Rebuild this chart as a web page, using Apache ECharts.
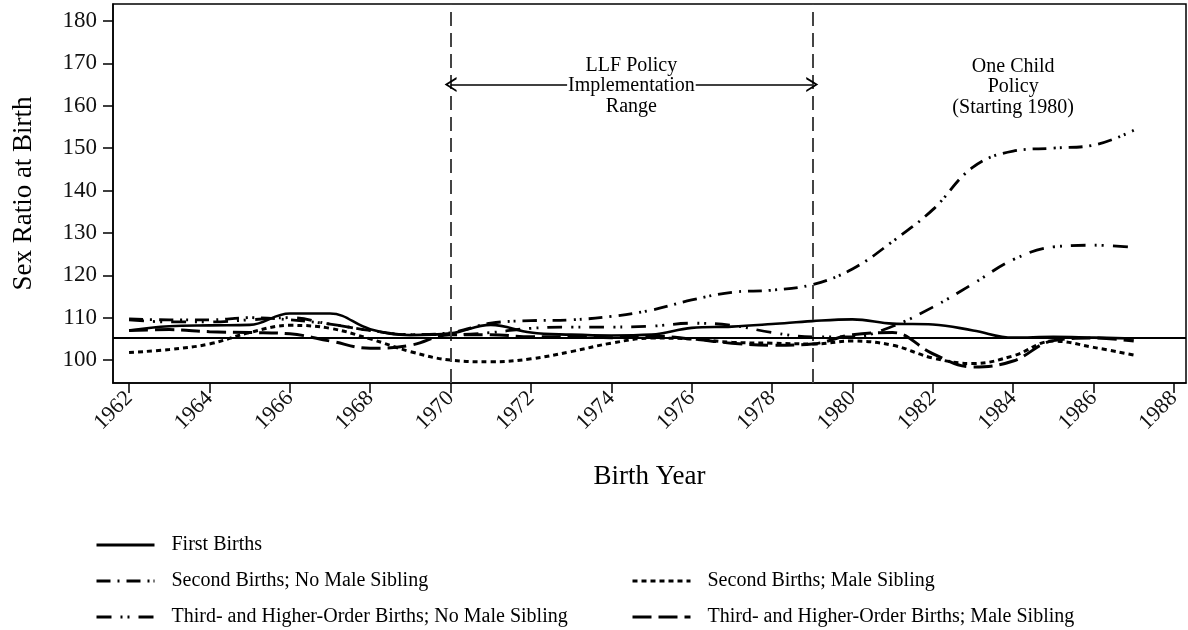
<!DOCTYPE html>
<html>
<head>
<meta charset="utf-8">
<script src="https://cdn.jsdelivr.net/npm/echarts@6/dist/echarts.min.js"></script>
<style>
  html, body { margin: 0; padding: 0; background: #fff; }
  #main { width: 1188px; height: 630px; }
</style>
</head>
<body>
<div id="main"></div>
<script>
    // birth years and smoothed sex ratios
    const years = [1962, 1963, 1964, 1965, 1966, 1967, 1968, 1969, 1970, 1971, 1972, 1973, 1974,
                   1975, 1976, 1977, 1978, 1979, 1980, 1981, 1982, 1983, 1984, 1985, 1986, 1987];
    const firstBirths = [107, 108, 108.2, 108.3, 111, 111, 107.3, 105.9, 106.3, 108.3, 106.5, 106, 105.8,
                         106, 107.6, 107.9, 108.5, 109.2, 109.6, 108.6, 108.4, 107, 105.3, 105.5, 105.3, 105.1];
    const secondNoMale = [109.7, 109.5, 109.5, 110, 109.5, 108.5, 107, 106, 106.5, 108.7, 109.3, 109.5, 110.3,
                          111.8, 114.2, 116, 116.5, 117.8, 121.5, 128, 135.5, 145.5, 149.3, 150, 150.7, 154.2];
    const secondMale = [101.8, 102.5, 103.8, 106.5, 108.2, 107.5, 105, 102, 100, 99.6, 100.3, 102, 104,
                        105.2, 105, 104.2, 104, 103.8, 104.5, 103.5, 100.5, 99.2, 101, 104.5, 103, 101.2];
    const thirdNoMale = [109.5, 109, 109, 109.5, 110, 108.5, 107, 106, 106, 106.5, 107.5, 107.8, 107.8,
                         108, 108.7, 108.2, 106.5, 105.5, 105.5, 108, 112.5, 118, 123.7, 126.7, 127.1, 126.6];
    const thirdMale = [107, 107.2, 106.7, 106.5, 106.2, 104.5, 102.8, 103.5, 106, 106, 105.5, 105.5, 105.3,
                       105.7, 105, 104, 103.5, 103.8, 106, 106.5, 101.5, 98.4, 99.8, 104.6, 105.2, 104.5];

    const xTicks = [1962, 1964, 1966, 1968, 1970, 1972, 1974, 1976, 1978, 1980, 1982, 1984, 1986, 1988];
    const yTicks = [100, 110, 120, 130, 140, 150, 160, 170, 180];
    const policyYears = [1970, 1979];
    const naturalRatio = 105.3;

    const font = 'Liberation Serif, Times New Roman, serif';

    const pairs = (vals) => years.map((y, i) => [y, vals[i]]);

    // open chevron used for the arrow heads
    const chevron = 'path://M5,0 L10,10 L8.6,10 L5,2.8 L1.4,10 L0,10 Z';

    // one legend box per entry, placed like the two-column key under the plot
    const legendBox = (name, left, top) => ({
        data: [name],
        left: left, top: top,
        itemWidth: 58, itemHeight: 14,
        itemStyle: { opacity: 0 },
        lineStyle: { width: 3 },
        textStyle: { fontFamily: font, fontSize: 20, color: '#000', padding: [0, 0, 0, 12] }
    });

    const chart = echarts.init(document.getElementById('main'));

    const option = {
        animation: false,
        backgroundColor: '#fff',
        textStyle: { fontFamily: font, color: '#000' },
        grid: {
            left: 113, right: 2, top: 4, bottom: 247,
            show: true, borderColor: '#000', borderWidth: 1.5
        },
        xAxis: {
            type: 'value',
            min: 1961.6,
            max: 1988.3,
            name: 'Birth Year',
            nameLocation: 'middle',
            nameGap: 80,
            nameTextStyle: { fontFamily: font, fontSize: 27, color: '#000' },
            axisLine: { lineStyle: { color: '#000', width: 1.5 } },
            axisTick: { length: 10, customValues: xTicks, lineStyle: { color: '#000', width: 1.5 } },
            axisLabel: {
                customValues: xTicks, rotate: 45, margin: 12,
                fontFamily: font, fontSize: 22, color: '#111',
                formatter: (v) => String(v)
            },
            splitLine: { show: false }
        },
        yAxis: {
            type: 'value',
            min: 94.6,
            max: 184,
            name: 'Sex Ratio at Birth',
            nameLocation: 'middle',
            nameGap: 76,
            nameTextStyle: { fontFamily: font, fontSize: 27, color: '#000' },
            axisLine: { lineStyle: { color: '#000', width: 1.5 } },
            axisTick: { length: 10, customValues: yTicks, lineStyle: { color: '#000', width: 1.5 } },
            axisLabel: { customValues: yTicks, margin: 16, fontFamily: font, fontSize: 23, color: '#111' },
            splitLine: { show: false }
        },
        legend: [
            legendBox('First Births', 90, 530),
            legendBox('Second Births; No Male Sibling', 90, 566),
            legendBox('Third- and Higher-Order Births; No Male Sibling', 90, 602),
            legendBox('Second Births; Male Sibling', 626, 566),
            legendBox('Third- and Higher-Order Births; Male Sibling', 626, 602)
        ],
        series: [
            {
                name: 'First Births',
                type: 'line',
                data: pairs(firstBirths),
                smooth: 0.4,
                symbol: 'none',
                color: '#000',
                lineStyle: { color: '#000', width: 2.6, type: 'solid' },
                markLine: {
                    silent: true,
                    symbol: 'none',
                    label: { show: false },
                    data: [
                        { xAxis: policyYears[0], lineStyle: { color: '#444', width: 2, type: [14, 7] } },
                        { xAxis: policyYears[1], lineStyle: { color: '#444', width: 2, type: [14, 7] } },
                        { yAxis: naturalRatio, lineStyle: { color: '#000', width: 2, type: 'solid' } }
                    ]
                }
            },
            {
                name: 'Second Births; No Male Sibling',
                type: 'line',
                data: pairs(secondNoMale),
                smooth: 0.4,
                symbol: 'none',
                color: '#000',
                lineStyle: { color: '#000', width: 2.8, type: [14, 7, 2, 7, 14, 7, 2, 4, 2, 7] },
                markLine: {
                    silent: true,
                    symbol: [chevron, chevron],
                    symbolSize: [15, 12],
                    label: { show: false },
                    lineStyle: { color: '#000', width: 1.6, type: 'solid' },
                    data: [[{ coord: [policyYears[0], 165] }, { coord: [policyYears[1], 165] }]]
                },
                markPoint: {
                    silent: true,
                    symbol: 'circle',
                    symbolSize: 0,
                    data: [
                        {
                            coord: [1974.5, 164.6],
                            label: {
                                show: true, position: 'inside',
                                formatter: 'LLF Policy\nImplementation\nRange',
                                fontFamily: font, fontSize: 20, lineHeight: 20.5, color: '#000',
                                align: 'center', verticalAlign: 'middle',
                                backgroundColor: '#fff', padding: [0, 1]
                            }
                        },
                        {
                            coord: [1984, 164.4],
                            label: {
                                show: true, position: 'inside',
                                formatter: 'One Child\nPolicy\n(Starting 1980)',
                                fontFamily: font, fontSize: 20, lineHeight: 20.5, color: '#000',
                                align: 'center', verticalAlign: 'middle'
                            }
                        }
                    ]
                }
            },
            {
                name: 'Second Births; Male Sibling',
                type: 'line',
                data: pairs(secondMale),
                smooth: 0.4,
                symbol: 'none',
                color: '#000',
                lineStyle: { color: '#000', width: 3, type: [5, 4] }
            },
            {
                name: 'Third- and Higher-Order Births; No Male Sibling',
                type: 'line',
                data: pairs(thirdNoMale),
                smooth: 0.4,
                symbol: 'none',
                color: '#000',
                lineStyle: { color: '#000', width: 2.8, type: [15, 9, 2, 5, 2, 9] }
            },
            {
                name: 'Third- and Higher-Order Births; Male Sibling',
                type: 'line',
                data: pairs(thirdMale),
                smooth: 0.4,
                symbol: 'none',
                color: '#000',
                lineStyle: { color: '#000', width: 3, type: [19, 7] }
            }
        ]
    };

    chart.setOption(option);
</script>
</body>
</html>
